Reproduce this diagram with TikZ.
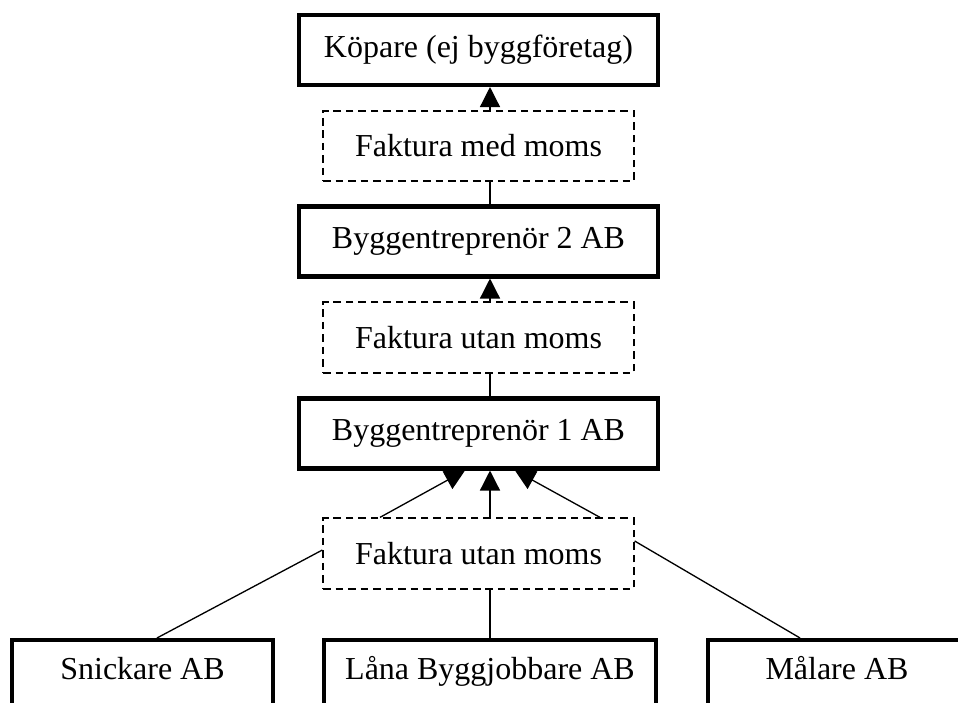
\documentclass[tikz,border=0pt]{standalone}
\usepackage{fontspec}
\setmainfont{Liberation Serif}
\usetikzlibrary{arrows.meta,positioning,calc}
\tikzset{firm/.style={draw,line width=2.3pt,fill=white,inner sep=0pt,
    minimum width=7.18cm,minimum height=1.40cm,text height=13pt,text depth=5pt,
    font=\fontsize{18.2}{22}\selectfont},
  invoice/.style={draw,line width=1pt,dash pattern=on 4.3pt off 2.8pt,
    inner sep=0pt,minimum width=6.21cm,minimum height=1.41cm,
    font=\fontsize{18.2}{22}\selectfont},
  edge/.style={-{Triangle[length=4mm,width=4mm]},line width=0.75pt},
  link/.style={line width=0.75pt}}

\begin{document}
\begin{tikzpicture}[x=1cm,y=1cm]
    \useasboundingbox (0,0) rectangle (19.16,-14.06);
    \coordinate (spine) at (9.8,0);
    \node[firm] (kop) at (9.57,-1.00) {Köpare (ej byggföretag)};
    \node[invoice] (fmm) at (9.57,-2.92) {Faktura med moms};
    \node[firm] (bygg2) at (9.57,-4.83) {Byggentreprenör 2 AB};
    \node[invoice] (fum2) at (9.57,-6.75) {Faktura utan moms};
    \node[firm] (bygg1) at (9.57,-8.67) {Byggentreprenör 1 AB};
    \node[invoice] (fum1) at (9.57,-11.07) {Faktura utan moms};
    \node[firm,minimum width=5.22cm,text depth=8pt] (snick) at (2.85,-13.50) {Snickare AB};
    \node[firm,minimum width=6.64cm,text depth=8pt] (lana) at (9.80,-13.50) {Låna Byggjobbare AB};
    \node[firm,minimum width=5.16cm,text depth=8pt] (malare) at (16.74,-13.50) {Målare AB};
    % up the chain
    \draw[edge] (fmm.north -| spine) -- (kop.south -| spine);
    \draw[link] (bygg2.north -| spine) -- (fmm.south -| spine);
    \draw[edge] (fum2.north -| spine) -- (bygg2.south -| spine);
    \draw[link] (bygg1.north -| spine) -- (fum2.south -| spine);
    \draw[edge] ($(fum1.north -| spine)+(-2.2,0)$) -- ($(bygg1.south -| spine)+(-0.5,0)$);
    \draw[edge] (fum1.north -| spine) -- (bygg1.south -| spine);
    \draw[edge] ($(fum1.north -| spine)+(2.2,0)$) -- ($(bygg1.south -| spine)+(0.5,0)$);
    % subcontractors
    \draw[link] ($(snick.north)+(0.29,0)$) -- ($(fum1.west)+(0,0.07)$);
    \draw[link] (lana.north) -- (fum1.south -| lana.north);
    \draw[link] ($(malare.north)+(-0.74,0)$) -- ($(fum1.east)+(0,0.25)$);
  \end{tikzpicture}
\end{document}
